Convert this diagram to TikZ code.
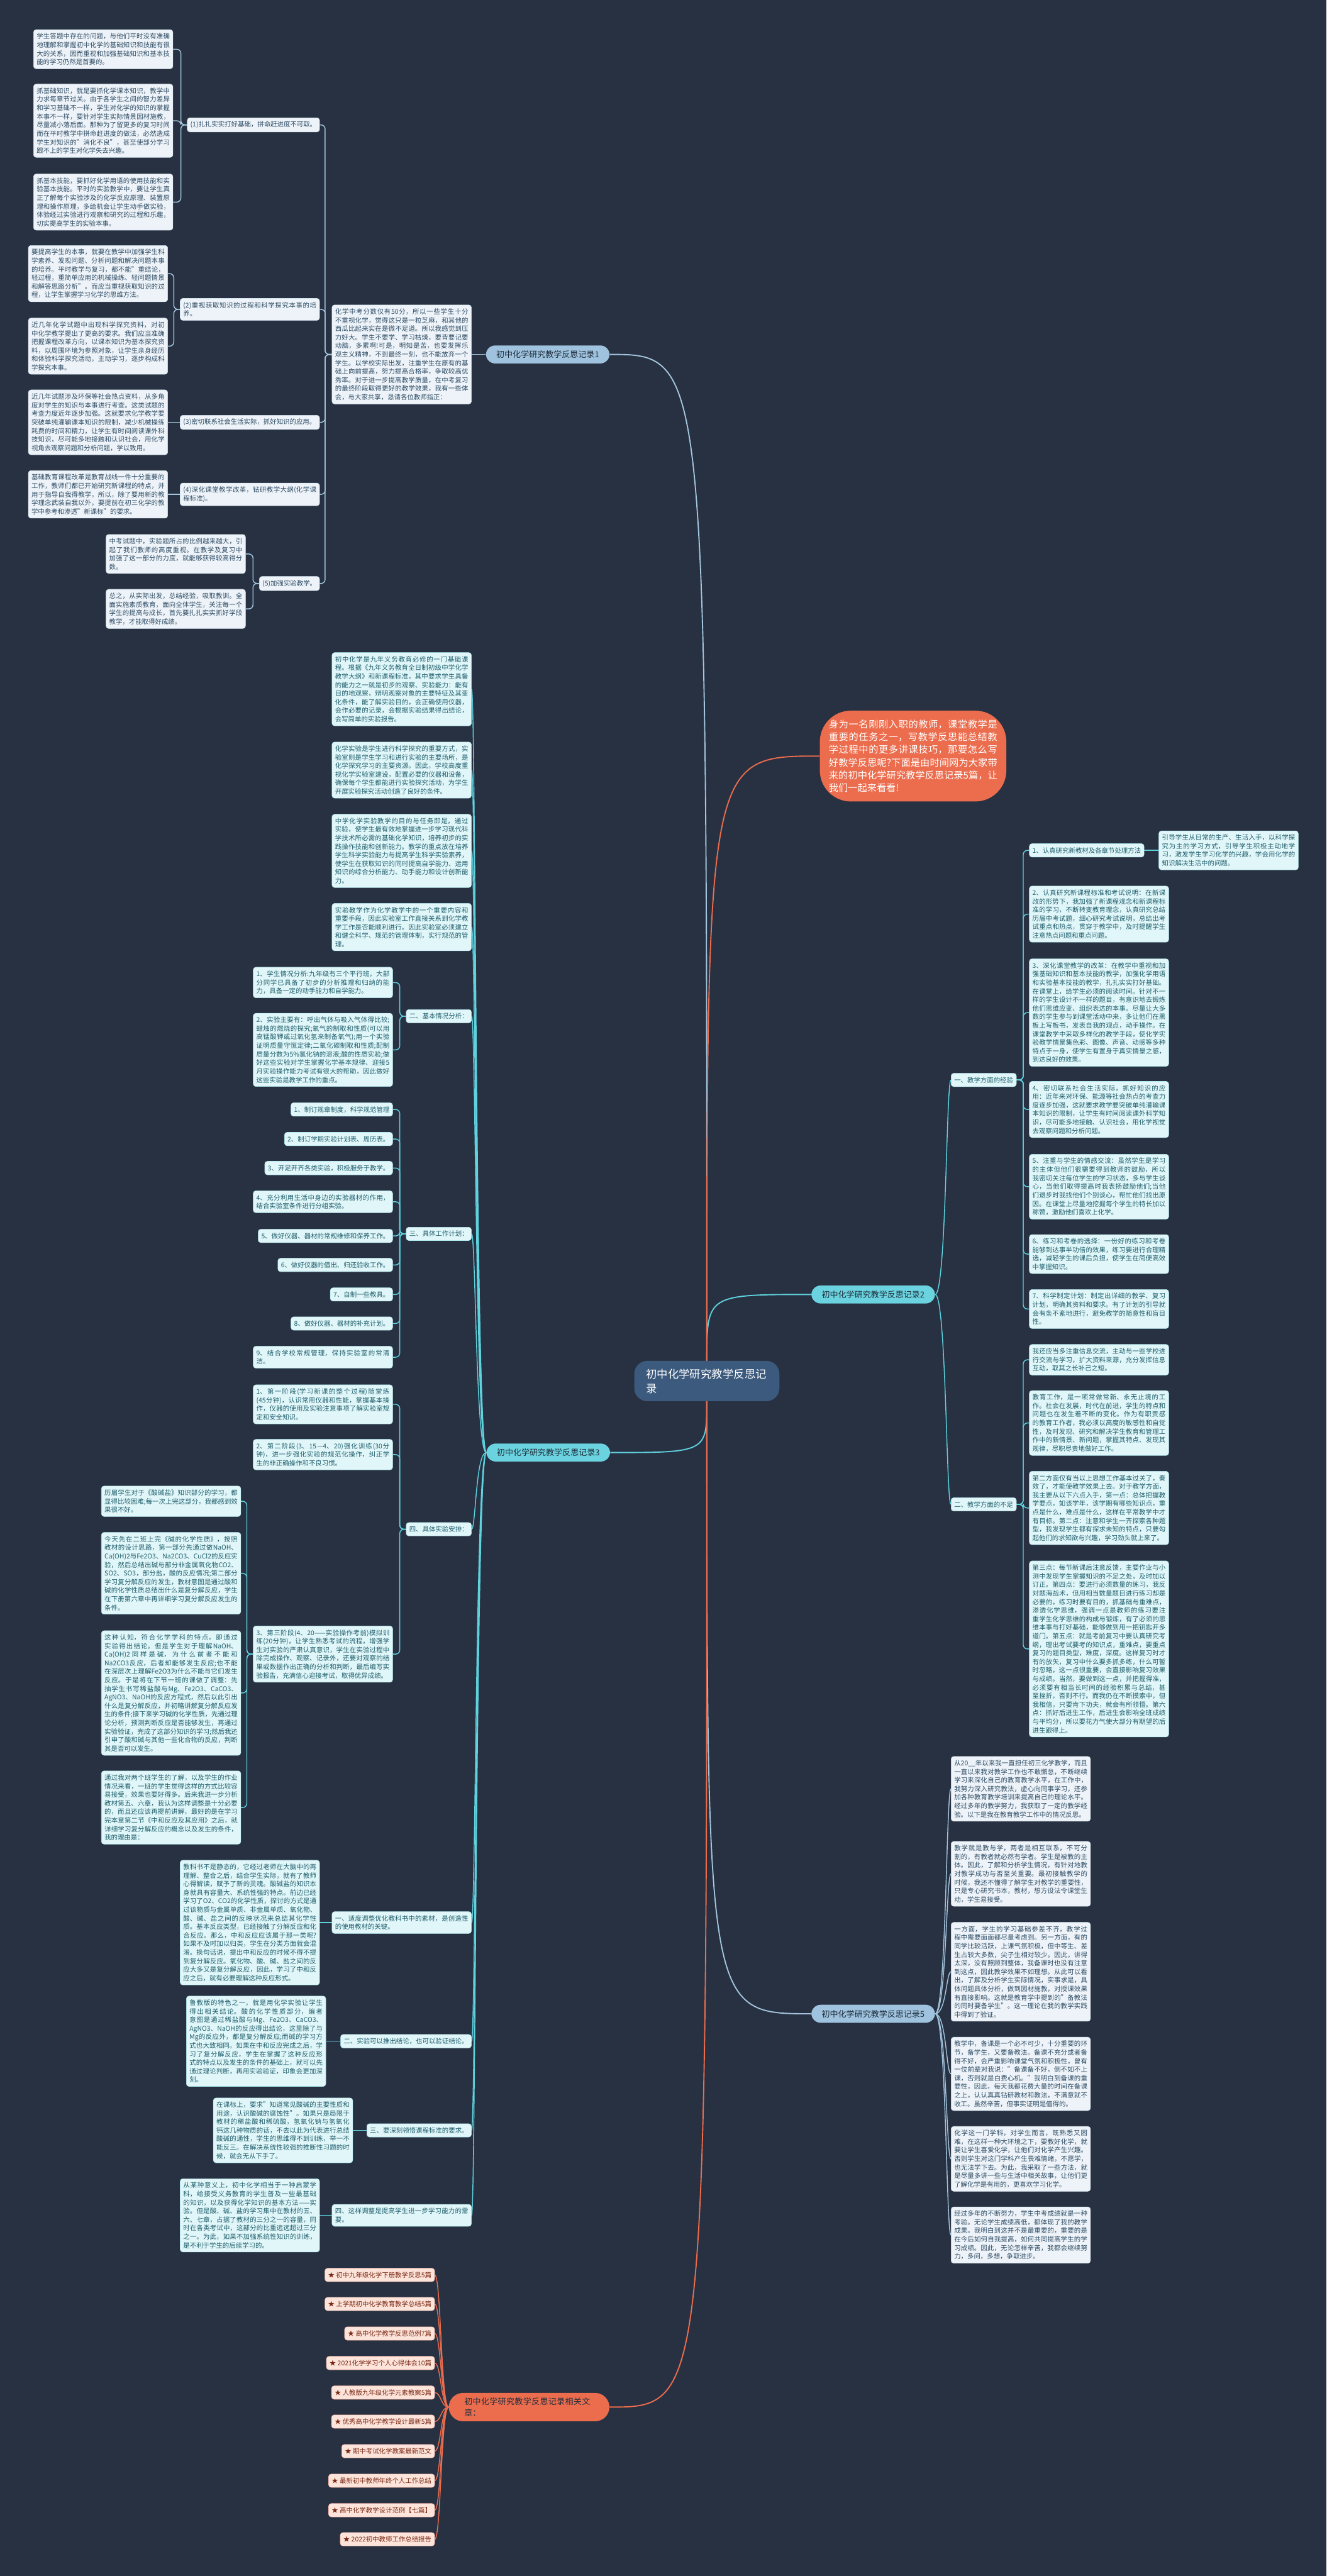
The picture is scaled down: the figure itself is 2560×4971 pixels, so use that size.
\documentclass[tikz,border=0pt]{standalone}
\usepackage{fontspec}
\setmainfont{Noto Sans CJK SC}
\XeTeXlinebreaklocale "zh"
\XeTeXlinebreakskip=0pt plus 1pt
\usetikzlibrary{backgrounds}

\definecolor{bgc}{HTML}{283142}
\definecolor{blueline}{HTML}{A3C5DD}
\definecolor{bluefill}{HTML}{EDF3F8}
\definecolor{bluetext}{HTML}{2E4B64}
\definecolor{cyanline}{HTML}{5FD2DE}
\definecolor{cyanfill}{HTML}{E0F6F9}
\definecolor{cyantext}{HTML}{1F5E6B}
\definecolor{orgline}{HTML}{EC6D4E}
\definecolor{orgfill}{HTML}{FDE4DB}
\definecolor{orgtext}{HTML}{7A2A14}
\definecolor{hubblue}{HTML}{9FC3DE}
\definecolor{hubcyan}{HTML}{6BD3DF}
\definecolor{hubtext}{HTML}{1E2B3A}
\definecolor{rootfill}{HTML}{3C5A7E}

\newcommand\txtfont{\fontsize{7.2pt}{9.4pt}\selectfont}
\newcommand\hubfont{\fontsize{9pt}{12pt}\selectfont}
\newcommand\rootfont{\fontsize{12pt}{16pt}\selectfont}
\newcommand\introfont{\fontsize{10.5pt}{14pt}\selectfont}

\tikzset{
  boxbase/.style={rounded corners=0.1cm, inner xsep=0.12cm, inner ysep=0.14cm, font=\txtfont},
  bluebox/.style={boxbase, fill=bluefill, draw=blueline!50, text=bluetext},
  cyanbox/.style={boxbase, fill=cyanfill, draw=cyanline!50, text=cyantext},
  relbox/.style={boxbase, fill=orgfill, draw=orgline!50, text=orgtext},
  wide/.style={text width=5.14cm, align=justify},
  hub/.style={rounded corners=0.36cm, inner xsep=0.4cm, inner ysep=0.2cm, font=\hubfont, text=hubtext},
  blueln/.style={draw=blueline, line width=1pt, rounded corners=0.16cm},
  cyanln/.style={draw=cyanline, line width=1pt, rounded corners=0.16cm},
  orgln/.style={draw=orgline, line width=1pt},
}

\begin{document}
\begin{tikzpicture}[x=0.02cm, y=-0.02cm]

\begin{scope}[on background layer]
  \fill[bgc] (0,0) rectangle (2560,4971);
\end{scope}
\useasboundingbox (0,0) rectangle (2560,4971);

%% ---- centre -------------------------------------------------------
\node[fill=rootfill, text=white, rounded corners=0.5cm, font=\rootfont,
      text width=4.7cm, inner xsep=0.45cm, inner ysep=0.3cm] (C) at (1364,2665)
  {初中化学研究教学反思记录};

\node[fill=orgline, text=white, rounded corners=1.2cm, font=\introfont,
      text width=6.5cm, align=justify, inner xsep=0.35cm, inner ysep=0.35cm] (O) at (1762,1459)
  {身为一名刚刚入职的教师，课堂教学是重要的任务之一，写教学反思能总结教学过程中的更多讲课技巧，那要怎么写好教学反思呢?下面是由时间网为大家带来的初中化学研究教学反思记录5篇，让我们一起来看看!};

%% ---- record 1 (upper left) ---------------------------------------
\node[hub, fill=hubblue] (H1) at (1057,684) {初中化学研究教学反思记录1};
\node[bluebox, wide, anchor=east] (H1p) at (910,684)
  {化学中考分数仅有50分，所以一些学生十分不重视化学，觉得这只是一粒芝麻，和其他的西瓜比起来实在是微不足道。所以我感觉到压力好大。学生不要学、学习枯燥，要背要记要动脑，多累啊!可是，明知是苦，也要发挥乐观主义精神，不到最终一刻，也不能放弃一个学生。以学校实际出发，注重学生在原有的基础上向前提高，努力提高合格率，争取较高优秀率。对于进一步提高教学质量，在中考复习的最终阶段取得更好的教学效果，我有一些体会，与大家共享，恳请各位教师指正：};

\node[bluebox, anchor=east] (L1) at (617,241) {(1)扎扎实实打好基础，拼命赶进度不可取。};
\node[bluebox, wide, anchor=east] (L2) at (617,597) {(2)重视获取知识的过程和科学探究本事的培养。};
\node[bluebox, wide, anchor=east] (L3) at (617,815) {(3)密切联系社会生活实际，抓好知识的应用。};
\node[bluebox, wide, anchor=east] (L4) at (617,954) {(4)深化课堂教学改革，钻研教学大纲(化学课程标准)。};
\node[bluebox, anchor=east] (L5) at (617,1126) {(5)加强实验教学。};

\node[bluebox, wide, anchor=east] (P1a) at (334,95)
  {学生答题中存在的问题，与他们平时没有准确地理解和掌握初中化学的基础知识和技能有很大的关系，因而重视和加强基础知识和基本技能的学习仍然是首要的。};
\node[bluebox, wide, anchor=east] (P1b) at (334,233)
  {抓基础知识，就是要抓化学课本知识，教学中力求每章节过关。由于各学生之间的智力差异和学习基础不一样，学生对化学的知识的掌握本事不一样，要针对学生实际情景因材施教，尽量减小落后面。那种为了留更多的复习时间而在平时教学中拼命赶进度的做法，必然造成学生对知识的"消化不良"，甚至使部分学习跟不上的学生对化学失去兴趣。};
\node[bluebox, wide, anchor=east] (P1c) at (334,390)
  {抓基本技能，要抓好化学用语的使用技能和实验基本技能。平时的实验教学中，要让学生真正了解每个实验涉及的化学反应原理、装置原理和操作原理，多给机会让学生动手做实验，体验经过实验进行观察和研究的过程和乐趣，切实提高学生的实验本事。};
\node[bluebox, wide, anchor=east] (P2a) at (324,528)
  {要提高学生的本事，就要在教学中加强学生科学素养、发现问题、分析问题和解决问题本事的培养。平时教学与复习，都不能"重结论，轻过程，重简单应用的机械操练、轻问题情景和解答思路分析"。而应当重视获取知识的过程，让学生掌握学习化学的思维方法。};
\node[bluebox, wide, anchor=east] (P2b) at (324,668)
  {近几年化学试题中出现科学探究资料，对初中化学教学提出了更高的要求。我们应当准确把握课程改革方向，以课本知识为基本探究资料，以周围环境为参照对象，让学生亲身经历和体验科学探究活动，主动学习，逐步构成科学探究本事。};
\node[bluebox, wide, anchor=east] (P3a) at (324,815)
  {近几年试题涉及环保等社会热点资料，从多角度对学生的知识与本事进行考查。这类试题的考查力度近年逐步加强。这就要求化学教学要突破单纯灌输课本知识的限制，减少机械操练耗费的时间和精力，让学生有时间阅读课外科技知识，尽可能多地接触和认识社会，用化学视角去观察问题和分析问题，学以致用。};
\node[bluebox, wide, anchor=east] (P4a) at (324,954)
  {基础教育课程改革是教育战线一件十分重要的工作，教师们都已开始研究新课程的特点，并用于指导自我得教学，所以，除了要用新的教学理念武装自我以外，要提前在初三化学的教学中参考和渗透"新课标"的要求。};
\node[bluebox, wide, anchor=east] (P5a) at (474,1069)
  {中考试题中，实验题所占的比例越来越大，引起了我们教师的高度重视。在教学及复习中加强了这一部分的力度，就能够获得较高得分数。};
\node[bluebox, wide, anchor=east] (P5b) at (474,1175)
  {总之，从实际出发，总结经验，吸取教训。全面实施素质教育，面向全体学生，关注每一个学生的提高与成长，首先要扎扎实实抓好学段教学，才能取得好成绩。};

%% ---- record 3 (left) ---------------------------------------------
\node[hub, fill=hubcyan] (H3) at (1058,2803) {初中化学研究教学反思记录3};

\node[cyanbox, wide, anchor=east] (Q1) at (910,1330)
  {初中化学是九年义务教育必修的一门基础课程。根据《九年义务教育全日制初级中学化学教学大纲》和新课程标准，其中要求学生具备的能力之一就是初步的观察、实验能力：能有目的地观察，辩明观察对象的主要特征及其变化条件，能了解实验目的，会正确使用仪器，会作必要的记录，会根据实验结果得出结论，会写简单的实验报告。};
\node[cyanbox, wide, anchor=east] (Q2) at (910,1486)
  {化学实验是学生进行科学探究的重要方式，实验室则是学生学习和进行实验的主要场所，是化学探究学习的主要资源。因此，学校高度重视化学实验室建设，配置必要的仪器和设备，确保每个学生都能进行实验探究活动，为学生开展实验探究活动创造了良好的条件。};
\node[cyanbox, wide, anchor=east] (Q3) at (910,1642)
  {中学化学实验教学的目的与任务即是，通过实验，使学生最有效地掌握进一步学习现代科学技术所必需的基础化学知识，培养初步的实践操作技能和创新能力。教学的重点放在培养学生科学实验能力与提高学生科学实验素养，使学生在获取知识的同时提高自学能力、运用知识的综合分析能力、动手能力和设计创新能力。};
\node[cyanbox, wide, anchor=east] (Q4) at (910,1789)
  {实验教学作为化学教学中的一个重要内容和重要手段，因此实验室工作直接关系到化学教学工作是否能顺利进行。因此实验室必须建立和健全科学、规范的管理体制，实行规范的管理。};

\node[cyanbox, anchor=east] (A2) at (910,1961) {二、基本情况分析：};
\node[cyanbox, wide, anchor=east] (B1) at (758,1896)
  {1、学生情况分析:九年级有三个平行班，大部分同学已具备了初步的分析推理和归纳的能力，具备一定的动手能力和自学能力。};
\node[cyanbox, wide, anchor=east] (B2) at (758,2026)
  {2、实验主要有：呼出气体与吸入气体得比较;蜡烛的燃烧的探究;氧气的制取和性质(可以用高锰酸钾或过氧化氢来制备氧气);用一个实验证明质量守恒定律;二氧化碳制取和性质;配制质量分数为5\%氯化钠的溶液;酸的性质实验;做好这些实验对学生掌握化学基本规律、迎接5月实验操作能力考试有很大的帮助，因此做好这些实验是教学工作的重点。};

\node[cyanbox, anchor=east] (A3) at (910,2381) {三、具体工作计划：};
\node[cyanbox, anchor=east] (W1) at (758,2141) {1、制订规章制度，科学规范管理};
\node[cyanbox, anchor=east] (W2) at (758,2198) {2、制订学期实验计划表、周历表。};
\node[cyanbox, anchor=east] (W3) at (758,2254) {3、开足开齐各类实验，积极服务于教学。};
\node[cyanbox, wide, anchor=east] (W4) at (758,2319) {4、充分利用生活中身边的实验器材的作用，结合实验室条件进行分组实验。};
\node[cyanbox, anchor=east] (W5) at (758,2385) {5、做好仪器、器材的常规维修和保养工作。};
\node[cyanbox, anchor=east] (W6) at (758,2441) {6、做好仪器的借出、归还验收工作。};
\node[cyanbox, anchor=east] (W7) at (758,2498) {7、自制一些教具。};
\node[cyanbox, anchor=east] (W8) at (758,2554) {8、做好仪器、器材的补充计划。};
\node[cyanbox, wide, anchor=east] (W9) at (758,2619) {9、结合学校常规管理，保持实验室的常清洁。};

\node[cyanbox, anchor=east] (A4) at (910,2951) {四、具体实验安排：};
\node[cyanbox, wide, anchor=east] (X1) at (758,2710)
  {1、第一阶段(学习新课的整个过程)随堂练(45分钟)，认识常用仪器和性能，掌握基本操作，仪器的使用及实验注意事项了解实验室规定和安全知识。};
\node[cyanbox, wide, anchor=east] (X2) at (758,2807)
  {2、第二阶段(3、15—4、20)强化训练(30分钟)，进一步强化实验的规范化操作，纠正学生的非正确操作和不良习惯。};
\node[cyanbox, wide, anchor=east] (X3) at (758,3192)
  {3、第三阶段(4、20——实验操作考前)模拟训练(20分钟)，让学生熟悉考试的流程，增强学生对实验的严肃认真意识，学生在实验过程中除完成操作、观察、记录外，还要对观察的结果或数据作出正确的分析和判断，最后编写实验报告，充满信心迎接考试，取得优异成绩。};

\node[cyanbox, wide, anchor=east] (T1) at (465,2897)
  {历届学生对于《酸碱盐》知识部分的学习，都显得比较困难;每一次上完这部分，我都感到效果很不好。};
\node[cyanbox, wide, anchor=east] (T2) at (465,3036)
  {今天先在二班上完《碱的化学性质》，按照教材的设计思路，第一部分先通过做NaOH、Ca(OH)2与Fe2O3、Na2CO3、CuCl2的反应实验，然后总结出碱与部分非金属氧化物CO2、SO2、SO3，部分盐，酸的反应情况;第二部分学习复分解反应的发生，教材意图是通过酸和碱的化学性质总结出什么是复分解反应，学生在下册第六章中再详细学习复分解反应发生的条件。};
\node[cyanbox, wide, anchor=east] (T3) at (465,3267)
  {这种认知，符合化学学科的特点，即通过实验得出结论。但是学生对于理解NaOH、Ca(OH)2同样是碱，为什么前者不能和Na2CO3反应，后者却能够发生反应;也不能在深层次上理解Fe2O3为什么不能与它们发生反应。于是将在下节一班的课做了调整：先抽学生书写稀盐酸与Mg、Fe2O3、CaCO3、AgNO3、NaOH的反应方程式，然后以此引出什么是复分解反应，并初略讲解复分解反应发生的条件;接下来学习碱的化学性质，先通过理论分析，预测判断反应是否能够发生，再通过实验验证，完成了这部分知识的学习;然后我还引申了酸和碱与其他一些化合物的反应，判断其是否可以发生。};
\node[cyanbox, wide, anchor=east] (T4) at (465,3488)
  {通过我对两个班学生的了解，以及学生的作业情况来看，一班的学生觉得这样的方式比较容易接受，效果也要好得多。后来我进一步分析教材第五、六章，我认为这样调整是十分必要的，而且还应该再提前讲解，最好的是在学习完本章第二节《中和反应及其应用》之后，就详细学习复分解反应的概念以及发生的条件，我的理由是：};

\node[cyanbox, wide, anchor=east] (A5) at (910,3710) {一、适度调整优化教科书中的素材，是创造性的使用教材的关键。};
\node[cyanbox, wide, anchor=east] (U1) at (617,3710)
  {教科书不是静态的，它经过老师在大脑中的再理解、整合之后，结合学生实际，就有了教师心得解读，赋予了新的灵魂。酸碱盐的知识本身就具有容量大、系统性强的特点。前边已经学习了O2、CO2的化学性质，探讨的方式是通过该物质与金属单质、非金属单质、氧化物、酸、碱、盐之间的反映状况来总结其化学性质。基本反应类型，已经接触了分解反应和化合反应。那么，中和反应应该属于那一类呢?如果不及时加以归类，学生在分类方面就会混淆。换句话说，提出中和反应的时候不得不提到复分解反应。氧化物、酸、碱、盐之间的反应大多又是复分解反应，因此，学习了中和反应之后，就有必要理解这种反应形式。};
\node[cyanbox, anchor=east] (A6) at (910,3939) {二、实验可以推出结论，也可以验证结论。};
\node[cyanbox, wide, anchor=east] (U2) at (629,3939)
  {鲁教版的特色之一，就是用化学实验让学生得出相关结论。酸的化学性质部分，编者意图是通过稀盐酸与Mg、Fe2O3、CaCO3、AgNO3、NaOH的反应得出结论，这里除了与Mg的反应外，都是复分解反应;而碱的学习方式也大致相同。如果在中和反应完成之后，学习了复分解反应，学生在掌握了这种反应形式的特点以及发生的条件的基础上，就可以先通过理论判断，再用实验验证，印象会更加深刻。};
\node[cyanbox, anchor=east] (A7) at (910,4111) {三、要深刻领悟课程标准的要求。};
\node[cyanbox, wide, anchor=east] (U3) at (681,4111)
  {在课标上，要求"知道常见酸碱的主要性质和用途，认识酸碱的腐蚀性"。如果只是局限于教材的稀盐酸和稀硫酸，氢氧化钠与氢氧化钙这几种物质的话，不去以此为代表进行总结酸碱的通性，学生的思维得不到训练，举一不能反三。在解决系统性较强的推断性习题的时候，就会无从下手了。};
\node[cyanbox, wide, anchor=east] (A8) at (910,4275) {四、这样调整是提高学生进一步学习能力的需要。};
\node[cyanbox, wide, anchor=east] (U4) at (617,4275)
  {从某种意义上，初中化学相当于一种启蒙学科，给接受义务教育的学生普及一些最基础的知识，以及获得化学知识的基本方法——实验。但是酸、碱、盐的学习集中在教材的五、六、七章，占据了教材的三分之一的容量，同时在各类考试中，这部分的比重远远超过三分之一。为此，如果不加强系统性知识的训练，是不利于学生的后续学习的。};

%% ---- related articles (bottom left) ------------------------------
\node[fill=orgline, text=hubtext, rounded corners=0.55cm, font=\hubfont, text width=5cm,
      inner xsep=0.6cm, inner ysep=0.19cm] (R) at (1021,4645)
  {初中化学研究教学反思记录相关文章：};
\node[relbox, anchor=east] (R1) at (839,4390) {★ 初中九年级化学下册教学反思5篇};
\node[relbox, anchor=east] (R2) at (839,4446) {★ 上学期初中化学教育教学总结5篇};
\node[relbox, anchor=east] (R3) at (839,4503) {★ 高中化学教学反思范例7篇};
\node[relbox, anchor=east] (R4) at (839,4560) {★ 2021化学学习个人心得体会10篇};
\node[relbox, anchor=east] (R5) at (839,4617) {★ 人教版九年级化学元素教案5篇};
\node[relbox, anchor=east] (R6) at (839,4673) {★ 优秀高中化学教学设计最新5篇};
\node[relbox, anchor=east] (R7) at (839,4730) {★ 期中考试化学教案最新范文};
\node[relbox, anchor=east] (R8) at (839,4787) {★ 最新初中教师年终个人工作总结};
\node[relbox, anchor=east] (R9) at (839,4844) {★ 高中化学教学设计范例【七篇】};
\node[relbox, anchor=east] (R10) at (839,4900) {★ 2022初中教师工作总结报告};

%% ---- record 2 (right) --------------------------------------------
\node[hub, fill=hubcyan] (H2) at (1685,2498) {初中化学研究教学反思记录2};
\node[cyanbox, anchor=west] (E) at (1835,2084) {一、教学方面的经验};
\node[cyanbox, anchor=west] (N) at (1835,2903) {二、教学方面的不足};

\node[cyanbox, anchor=west] (E1) at (1986,1641) {1、认真研究新教材及各章节处理方法};
\node[cyanbox, wide, anchor=west] (E1a) at (2236,1641)
  {引导学生从日常的生产、生活入手，以科学探究为主的学习方式，引导学生积极主动地学习，激发学生学习化学的兴趣，学会用化学的知识解决生活中的问题。};
\node[cyanbox, wide, anchor=west] (E2) at (1986,1764)
  {2、认真研究新课程标准和考试说明：在新课改的形势下，我加强了新课程观念和新课程标准的学习，不断转变教育理念，认真研究总结历届中考试题，细心研究考试说明，总结出考试重点和热点，贯穿于教学中，及时提醒学生注意热点问题和重点问题。};
\node[cyanbox, wide, anchor=west] (E3) at (1986,1954)
  {3、深化课堂教学的改革：在教学中重视和加强基础知识和基本技能的教学，加强化学用语和实验基本技能的教学，扎扎实实打好基础。在课堂上，给学生必须的阅读时间。针对不一样的学生设计不一样的题目，有意识地去锻炼他们思维应变、组织表达的本事。尽量让大多数的学生参与到课堂活动中来，多让他们在黑板上写板书，发表自我的观点，动手操作。在课堂教学中采取多样化的教学手段，使化学实验教学情景集色彩、图像、声音、动感等多种特点于一身，使学生有置身于真实情景之感，到达良好的效果。};
\node[cyanbox, wide, anchor=west] (E4) at (1986,2141)
  {4、密切联系社会生活实际，抓好知识的应用：近年来对环保、能源等社会热点的考查力度逐步加强，这就要求教学要突破单纯灌输课本知识的限制，让学生有时间阅读课外科学知识，尽可能多地接触、认识社会，用化学视觉去观察问题和分析问题。};
\node[cyanbox, wide, anchor=west] (E5) at (1986,2290)
  {5、注重与学生的情感交流：虽然学生是学习的主体但他们很需要得到教师的鼓励，所以我密切关注每位学生的学习状态，多与学生谈心，当他们取得提高时我表扬鼓励他们;当他们退步时我找他们个别谈心，帮忙他们找出原因。在课堂上尽量地挖掘每个学生的特长加以称赞，激励他们喜欢上化学。};
\node[cyanbox, wide, anchor=west] (E6) at (1986,2420)
  {6、练习和考卷的选择：一份好的练习和考卷能够到达事半功倍的效果，练习要进行合理精选，减轻学生的课后负担，使学生在简便高效中掌握知识。};
\node[cyanbox, wide, anchor=west] (E7) at (1986,2526)
  {7、科学制定计划：制定出详细的教学、复习计划，明确其资料和要求。有了计划的引导就会有条不紊地进行，避免教学的随意性和盲目性。};

\node[cyanbox, wide, anchor=west] (D1) at (1986,2624)
  {我还应当多注重信息交流，主动与一些学校进行交流与学习，扩大资料来源，充分发挥信息互动，取其之长补己之短。};
\node[cyanbox, wide, anchor=west] (D2) at (1986,2746)
  {教育工作，是一项常做常新、永无止境的工作。社会在发展，时代在前进，学生的特点和问题也在发生着不断的变化。作为有职责感的教育工作者，我必须以高度的敏感性和自觉性，及时发现、研究和解决学生教育和管理工作中的新情景、新问题，掌握其特点、发现其规律，尽职尽责地做好工作。};
\node[cyanbox, wide, anchor=west] (D3) at (1986,2910)
  {第二方面仅有当以上思想工作基本过关了，奏效了，才能使教学效果上去。对于教学方面，我主要从以下六点入手，第一点：总体把握教学要点，如该学年，该学期有哪些知识点，重点是什么，难点是什么，这样在平常教学中才有目标。第二点：注意和学生一齐探索各种题型，我发现学生都有探求未知的特点，只要勾起他们的求知欲与兴趣，学习劲头就上来了。};
\node[cyanbox, wide, anchor=west] (D4) at (1986,3182)
  {第三点：每节新课后注意反馈，主要作业与小测中发现学生掌握知识的不足之处，及时加以订正。第四点：要进行必须数量的练习，我反对题海战术，但用相当数量题目进行练习却是必要的，练习时要有目的，抓基础与重难点，渗透化学思维，强调一点是教师的练习要注重学生化学思维的构成与锻炼，有了必须的思维本事与打好基础，能够做到用一把钥匙开多道门。第五点：就是考前复习中要认真研究考纲，理出考试要考的知识点，重难点，要重点复习的题目类型，难度，深度。这样复习时才有的放矢，复习中什么要多抓多练，什么可暂时忽略，这一点很重要，会直接影响复习效果与成绩。当然，要做到这一点，并把握得准，必须要有相当长时间的经验积累与总结，甚至挫折，否则不行。而我仍在不断摸索中，但我相信，只要肯下功夫，就会有所领悟。第六点：抓好后进生工作，后进生会影响全班成绩与平均分，所以要花力气使大部分有期望的后进生跟得上。};

%% ---- record 5 (lower right) --------------------------------------
\node[hub, fill=hubblue] (H5) at (1685,3886) {初中化学研究教学反思记录5};
\node[bluebox, wide, anchor=west] (S1) at (1835,3452)
  {从20\_\_年以来我一直担任初三化学教学，而且一直以来我对教学工作也不敢懈怠，不断继续学习来深化自己的教育教学水平，在工作中，我努力深入研究教法，虚心向同事学习，还参加各种教育教学培训来提高自己的理论水平。经过多年的教学努力，我获取了一定的教学经验。以下是我在教育教学工作中的情况反思。};
\node[bluebox, wide, anchor=west] (S2) at (1835,3616)
  {教学就是教与学，两者是相互联系，不可分割的，有教者就必然有学者。学生是被教的主体。因此，了解和分析学生情况，有针对地教对教学成功与否至关重要。最初接触教学的时候，我还不懂得了解学生对教学的重要性，只是专心研究书本，教材，想方设法令课堂生动，学生易接受。};
\node[bluebox, wide, anchor=west] (S3) at (1835,3805)
  {一方面，学生的学习基础参差不齐，教学过程中需要面面都尽量考虑到。另一方面，有的同学比较活跃，上课气氛积极，但中等生、差生占较大多数，尖子生相对较少。因此，讲得太深，没有照顾到整体，我备课时也没有注意到这点，因此教学效果不如理想。从此可以看出，了解及分析学生实际情况，实事求是，具体问题具体分析，做到因材施教，对授课效果有直接影响。这就是教育学中提到的"备教法的同时要备学生"。这一理论在我的教学实践中得到了验证。};
\node[bluebox, wide, anchor=west] (S4) at (1835,4002)
  {教学中，备课是一个必不可少，十分重要的环节，备学生，又要备教法。备课不充分或者备得不好，会严重影响课堂气氛和积极性，曾有一位前辈对我说："备课备不好，倒不如不上课，否则就是白费心机。"我明白到备课的重要性，因此，每天我都花费大量的时间在备课之上，认认真真钻研教材和教法，不满意就不收工。虽然辛苦，但事实证明是值得的。};
\node[bluebox, wide, anchor=west] (S5) at (1835,4166)
  {化学这一门学科，对学生而言，既熟悉又困难，在这样一种大环境之下，要教好化学，就要让学生喜爱化学，让他们对化学产生兴趣。否则学生对这门学科产生畏难情绪，不愿学，也无法学下去。为此，我采取了一些方法，就是尽量多讲一些与生活中相关故事，让他们更了解化学是有用的，更喜欢学习化学。};
\node[bluebox, wide, anchor=west] (S6) at (1835,4313)
  {经过多年的不断努力，学生中考成绩就是一种考验。无论学生成绩高低，都体现了我的教学成果。我明白到这并不是最重要的，重要的是在今后如何自我提高，如何共同提高学生的学习成绩。因此，无论怎样辛苦，我都会继续努力，多问，多想，争取进步。};

%% ---- connectors ---------------------------------------------------
\coordinate (k3) at (918,0);
\coordinate (k2) at (1826,0);
\coordinate (kr) at (851,0);

\begin{scope}[on background layer]
% centre to the branches
\draw[blueln, line width=1.3pt] (C) .. controls (C |- H1.east) .. (H1.east);
\draw[cyanln, line width=1.3pt] (C) .. controls (C |- H3.east) .. (H3.east);
\draw[cyanln, line width=1.3pt] (C) .. controls (C |- H2.west) .. (H2.west);
\draw[blueln, line width=1.3pt] (C) .. controls (C |- H5.west) .. (H5.west);
\draw[orgln, line width=1.3pt] (C) .. controls (C |- O.west) .. (O.west);
\draw[orgln, line width=1.3pt] (C) .. controls (C |- R.east) .. (R.east);

% record 1
\draw[blueln] (H1.west) -- (H1p.east);
\foreach \nd in {L1,L2,L3,L4,L5} \draw[blueln] (H1p.west) -- ++(-13,0) |- (\nd.east);
\foreach \nd in {P1a,P1b,P1c} \draw[blueln] (L1.west) -- ++(-12,0) |- (\nd.east);
\foreach \nd in {P2a,P2b} \draw[blueln] (L2.west) -- ++(-12,0) |- (\nd.east);
\draw[blueln] (L3.west) -- (P3a.east);
\draw[blueln] (L4.west) -- (P4a.east);
\foreach \nd in {P5a,P5b} \draw[blueln] (L5.west) -- ++(-12,0) |- (\nd.east);

% record 3
\foreach \nd in {Q1,Q2,Q3,Q4,A2,A3,A4,A5,A6,A7,A8}
  \draw[cyanln] (H3.west) .. controls (H3.west -| k3) and (\nd.east -| k3) .. (\nd.east);
\foreach \nd in {B1,B2} \draw[cyanln] (A2.west) -- ++(-12,0) |- (\nd.east);
\foreach \nd in {W1,W2,W3,W4,W5,W6,W7,W8,W9} \draw[cyanln] (A3.west) -- ++(-12,0) |- (\nd.east);
\foreach \nd in {X1,X2,X3} \draw[cyanln] (A4.west) -- ++(-12,0) |- (\nd.east);
\foreach \nd in {T1,T2,T3,T4} \draw[cyanln] (X3.west) -- ++(-12,0) |- (\nd.east);
\draw[cyanln] (A5.west) -- (U1.east);
\draw[cyanln] (A6.west) -- (U2.east);
\draw[cyanln] (A7.west) -- (U3.east);
\draw[cyanln] (A8.west) -- (U4.east);

% record 2
\foreach \nd in {E,N}
  \draw[cyanln] (H2.east) .. controls (H2.east -| k2) and (\nd.west -| k2) .. (\nd.west);
\foreach \nd in {E1,E2,E3,E4,E5,E6,E7} \draw[cyanln] (E.east) -- ++(13,0) |- (\nd.west);
\draw[cyanln] (E1.east) -- (E1a.west);
\foreach \nd in {D1,D2,D3,D4} \draw[cyanln] (N.east) -- ++(13,0) |- (\nd.west);

% record 5
\foreach \nd in {S1,S2,S3,S4,S5,S6}
  \draw[blueln] (H5.east) .. controls (H5.east -| k2) and (\nd.west -| k2) .. (\nd.west);

% related articles
\foreach \nd in {R1,R2,R3,R4,R5,R6,R7,R8,R9,R10}
  \draw[orgln] (R.west) .. controls (R.west -| kr) and (\nd.east -| kr) .. (\nd.east);
\end{scope}

\end{tikzpicture}
\end{document}
